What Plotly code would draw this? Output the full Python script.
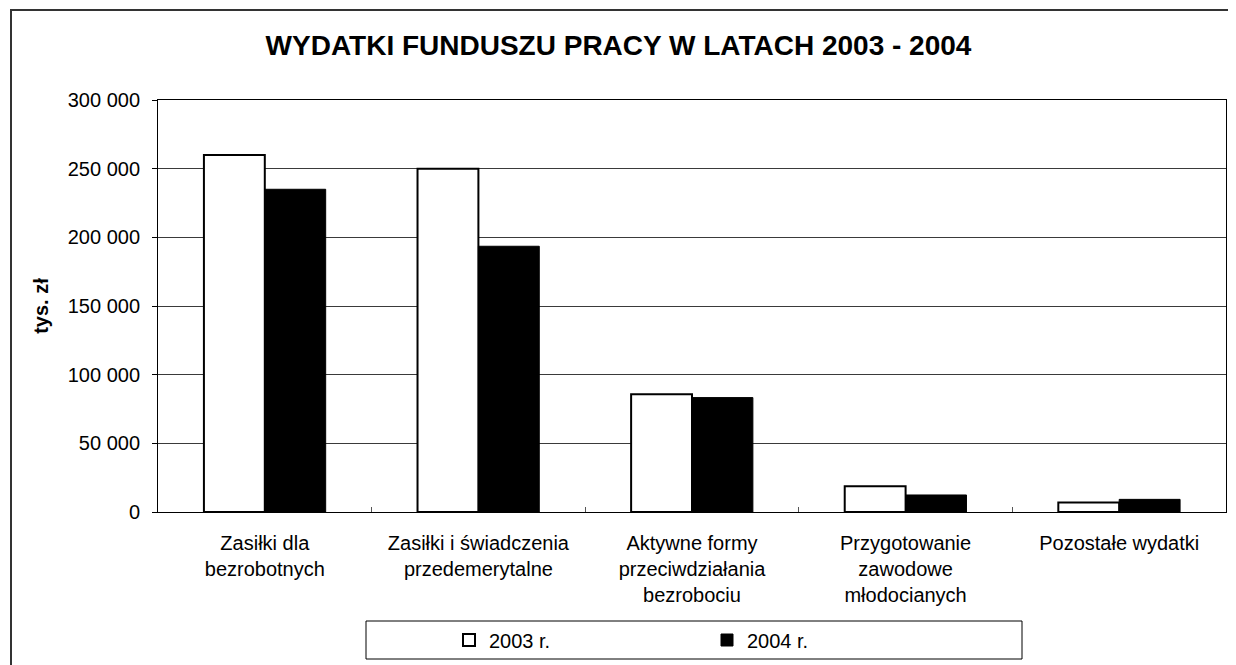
import plotly.graph_objects as go

categories = [
    "Zasiłki dla<br>bezrobotnych",
    "Zasiłki i świadczenia<br>przedemerytalne",
    "Aktywne formy<br>przeciwdziałania<br>bezrobociu",
    "Przygotowanie<br>zawodowe<br>młodocianych",
    "Pozostałe wydatki",
]
series_names = ["2003 r.", "2004 r."]
values_2003 = [260000, 250000, 85700, 18700, 7000]
values_2004 = [235000, 193500, 83300, 12400, 9200]
y_ticks = [0, 50000, 100000, 150000, 200000, 250000, 300000]

FONT = "Arial, Liberation Sans, sans-serif"

fig = go.Figure()
fig.add_trace(go.Bar(
    x=categories, y=values_2003, name=series_names[0],
    marker=dict(color="white", line=dict(color="black", width=2)),
))
fig.add_trace(go.Bar(
    x=categories, y=values_2004, name=series_names[1],
    marker=dict(color="black", line=dict(color="black", width=1)),
))

OFF = 8  # page body margin
W, H = 1236, 665
L, R, T, B = 150, 18, 92, 161
pw = W - L - R
ph = H - T - B

def px_x(x):
    return (x - OFF - L) / pw

def px_y(y):
    return (H - B - (y - OFF)) / ph

fig.update_layout(
    width=W, height=H,
    margin=dict(l=L, r=R, t=T, b=B, pad=0),
    paper_bgcolor="white", plot_bgcolor="white",
    separators=", ",
    font=dict(family=FONT, size=20, color="black"),
    barmode="group", bargap=0.43, bargroupgap=0,
    title=dict(
        text="WYDATKI FUNDUSZU PRACY W LATACH 2003 - 2004",
        font=dict(family=FONT, size=28, color="black", weight="bold"),
        x=(618.5 - OFF) / W, xanchor="center", xref="container",
        y=1 - (45 - OFF) / H, yanchor="middle", yref="container",
    ),
    showlegend=True,
    legend=dict(
        orientation="h",
        x=px_x(449), xanchor="left",
        y=px_y(640), yanchor="middle",
        bgcolor="rgba(0,0,0,0)", borderwidth=0,
        font=dict(family=FONT, size=20, color="black"),
        entrywidth=213, entrywidthmode="pixels",
        traceorder="normal",
    ),
    xaxis=dict(
        showgrid=False,
        showline=True, linecolor="black", linewidth=1, mirror=True,
        ticks="inside", tickson="boundaries", ticklen=5, tickcolor="#555555",
        tickfont=dict(family=FONT, size=20, color="black"),
        ticklabelstandoff=13,
    ),
    yaxis=dict(
        range=[0, 300000],
        tickvals=y_ticks, tickformat=",d",
        showgrid=True, gridcolor="#3a3a3a", gridwidth=1,
        showline=True, linecolor="black", linewidth=1, mirror=True,
        ticks="outside", ticklen=5, tickcolor="black",
        tickfont=dict(family=FONT, size=20, color="black"),
        ticklabelstandoff=8,
        title=dict(text="tys. zł", font=dict(family=FONT, size=20, color="black", weight="bold"), standoff=13),
        zeroline=False,
    ),
    shapes=[
        # outer chart frame
        dict(type="rect", xref="paper", yref="paper",
             x0=px_x(11), x1=px_x(1300), y0=px_y(720), y1=px_y(10),
             line=dict(color="#333333", width=2), fillcolor="rgba(0,0,0,0)", layer="below"),
        # legend box
        dict(type="rect", xref="paper", yref="paper",
             x0=px_x(366), x1=px_x(1022), y0=px_y(659), y1=px_y(621),
             line=dict(color="black", width=1), fillcolor="rgba(0,0,0,0)"),
    ],
)

fig.write_html("out.html")
